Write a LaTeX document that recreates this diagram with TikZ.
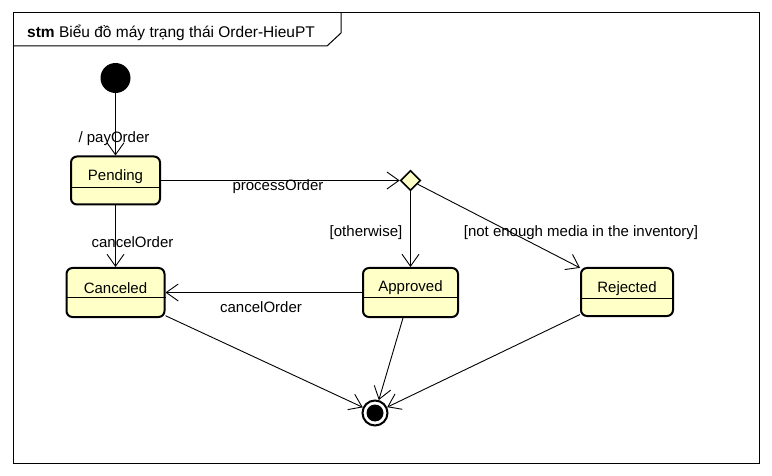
\documentclass[tikz,border=0pt]{standalone}
\usepackage{fontspec}
\setmainfont{Liberation Sans}
\usetikzlibrary{arrows.meta,shapes.geometric}
\definecolor{stfill}{RGB}{255,255,200}
\tikzset{
  every node/.style={font=\fontsize{15pt}{17pt}\selectfont},
  stbox/.style={draw, fill=stfill, line width=2pt, rounded corners=6pt, minimum height=48pt, inner sep=0pt},
  sttext/.style={inner sep=0pt, anchor=center, yshift=-2pt},
  conn/.style={line width=0.9pt, -{Straight Barb[length=12pt,width=17pt,line width=0.9pt]}},
  lbl/.style={inner sep=0pt, anchor=center, yshift=-2pt},
}
\begin{document}
\begin{tikzpicture}[x=1pt,y=-1pt]
\useasboundingbox (0,0) rectangle (772,476);
% frame
\draw[line width=1pt] (13,13) rectangle (759,463);
\draw[line width=1pt] (13,46) -- (327,46) -- (341,33) -- (341,13);
\node[lbl, anchor=west, font=\fontsize{15.5pt}{17pt}\selectfont] (title) at (27,31) {\textbf{stm} Biểu đồ máy trạng thái Order-HieuPT};
% states
\node[circle, fill=black, minimum size=30pt, inner sep=0pt] (init) at (115.5,78) {};
\node[stbox, minimum width=89pt] (pending) at (115.5,180.5) {};
\node[sttext] (pendingT) at (115.5,175) {Pending};
\draw[line width=1pt] ([yshift=-32pt]pending.north west) -- ([yshift=-32pt]pending.north east);
\node[stbox, minimum width=98pt, minimum height=49pt] (canceled) at (115.5,292.5) {};
\node[sttext] (canceledT) at (115.5,286) {Canceled};
\draw[line width=1pt] ([yshift=-30.5pt]canceled.north west) -- ([yshift=-30.5pt]canceled.north east);
\node[stbox, minimum width=95pt, minimum height=49pt] (approved) at (410.5,292.5) {};
\node[sttext] (approvedT) at (410.5,286) {Approved};
\draw[line width=1pt] ([yshift=-30.5pt]approved.north west) -- ([yshift=-30.5pt]approved.north east);
\node[stbox, minimum width=92pt] (rejected) at (627,292) {};
\node[sttext] (rejectedT) at (627,286.5) {Rejected};
\draw[line width=1pt] ([yshift=-31pt]rejected.north west) -- ([yshift=-31pt]rejected.north east);
\node[diamond, draw, fill=stfill, line width=1.6pt, minimum width=20pt, minimum height=20pt, inner sep=0pt] (dec) at (410.5,180.5) {};
\node[circle, draw, line width=2pt, fill=white, minimum size=25pt, inner sep=0pt,
  path picture={\fill[black] (path picture bounding box.center) circle (8.5pt);}] (final) at (375,413) {};
% connectors
\draw[conn] (init) -- (pending);
\node[lbl] (l1) at (114,137) {/ payOrder};
\draw[conn] (pending) -- (dec);
\node[lbl] (l2) at (278,184.5) {processOrder};
\draw[conn] (pending) -- (canceled);
\node[lbl] (l3) at (132.5,240) {cancelOrder};
\draw[conn] (dec) -- (approved);
\node[lbl] (l4) at (366,231) {[otherwise]};
\draw[conn] (dec) -- (rejected);
\node[lbl] (l5) at (581,231) {[not enough media in the inventory]};
\draw[conn] (approved) -- (canceled);
\node[lbl] (l6) at (261,305.5) {cancelOrder};
\draw[conn] (canceled) -- (final);
\draw[conn] (approved) -- (final);
\draw[conn] (rejected) -- (final);
\end{tikzpicture}
\end{document}
